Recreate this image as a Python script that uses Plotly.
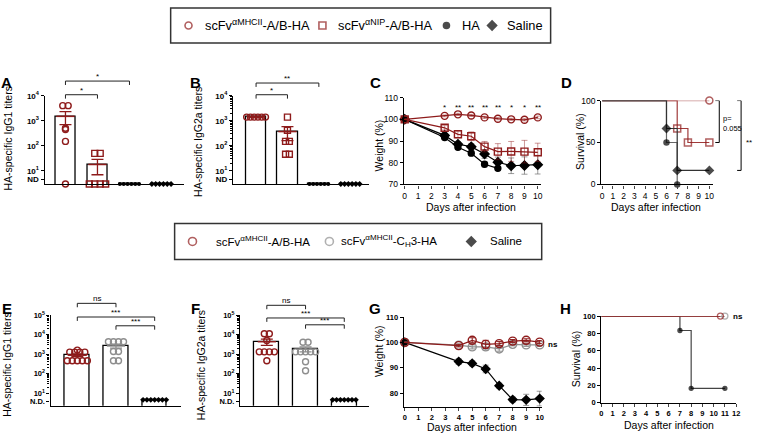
import plotly.graph_objects as go

W, H = 758, 439
FONT = "Liberation Sans, Arial, sans-serif"
RED = "#8e1b1b"
RED_SOFT = "rgba(142, 27, 27, 0.45)"
GREY = "#8e8e8e"
GREY_SOFT = "rgba(90, 90, 90, 0.6)"
BLACK = "#000000"

# ---------------- data ----------------
# titers per mouse, None = not detected (drawn on the N.D. line)
ab_groups = ["scFv αMHCII-A/B-HA", "scFv αNIP-A/B-HA", "HA", "Saline"]
ab_igg1 = [
    [4000, 4000, 450, 500, 150, None],
    [50, 50, None, None, None, None],
    [None, None, None, None, None, None],
    [None, None, None, None, None, None],
]
ab_igg1_mean = [1500, 18, None, None]
ab_igg1_sem = [800, 11, None, None]

ab_igg2a = [
    [1400, 1400, 1400, 1400, 1400, 1400],
    [1400, 420, 150, 150, 46, 46],
    [None, None, None, None, None, None],
    [None, None, None, None, None, None],
]
ab_igg2a_mean = [1400, 370, None, None]
ab_igg2a_sem = [0, 210, None, None]

# C: weight (%) after infection
c_days = [0, 3, 4, 5, 6, 7, 8, 9, 10]
c_mhc = [100, 101.6, 102.3, 101.8, 100.9, 100.3, 100.0, 99.8, 100.9]
c_mhc_sem = [0, 0.4, 0.5, 0.5, 0.5, 0.5, 0.5, 0.5, 0.6]
c_nip = [100, 96.1, 93.1, 92.2, 87.4, 85.1, 85.2, 85.1, 84.8]
c_nip_sem = [0, 1.0, 1.6, 2.0, 2.4, 3.7, 4.6, 5.2, 4.2]
c_ha_days = [0, 3, 4, 5, 6, 7]
c_ha = [100, 91.6, 87.1, 84.4, 79.3, 77.4]
c_ha_sem = [0, 0.6, 0.9, 1.0, 1.2, 0.8]
c_sal = [100, 92.6, 88.5, 87.4, 84.0, 80.2, 78.6, 78.7, 79.1]
c_sal_sem = [0, 0.8, 1.1, 1.4, 2.0, 2.4, 3.6, 4.0, 4.3]
c_sig = ["*", "**", "**", "**", "**", "*", "*", "**"]  # days 3-10

# D: survival (%)
d_mhc_days, d_mhc = [0, 10], [100, 100]
d_nip_days, d_nip = [0, 7, 8, 10], [100, 66.7, 50, 50]
d_ha_days, d_ha = [0, 6, 7], [100, 50, 0]
d_sal_days, d_sal = [0, 6, 7, 10], [100, 66.7, 16.7, 16.7]

# E / F titers
ef_groups = ["scFv αMHCII-A/B-HA", "scFv αMHCII-CH3-HA", "Saline"]
ef_igg1 = [
    [1250, 1250, 1600, 1250, 1250, 450, 450, 450, 450, 450],
    [4300, 4300, 4300, 4300, 1350, 1350, 450, 450],
    [None, None, None, None, None, None, None],
]
ef_igg1_mean = [880, 2600, None]
ef_igg1_sem = [140, 600, None]

ef_igg2a = [
    [11000, 11000, 5000, 1300, 1300, 1300, 1300, 450],
    [4000, 4000, 1300, 1300, 1300, 1300, 1300, 400, 140],
    [None, None, None, None, None, None, None],
]
ef_igg2a_mean = [4300, 1800, None]
ef_igg2a_sem = [1500, 500, None]

# G: weight (%)
g_days = [0, 4, 5, 6, 7, 8, 9, 10]
g_mhc = [100, 98.7, 100.8, 99.2, 99.5, 100.5, 100.8, 100.1]
g_mhc_sem = [0, 0.5, 1.0, 1.6, 0.8, 0.6, 0.6, 0.6]
g_ch3 = [100, 98.9, 98.2, 98.2, 97.4, 99.2, 99.0, 99.0]
g_ch3_sem = [0, 0.5, 0.8, 1.2, 0.9, 0.6, 0.6, 0.6]
g_sal = [100, 92.4, 91.7, 89.5, 82.9, 77.4, 77.3, 77.8]
g_sal_sem = [0, 1.1, 1.0, 1.5, 1.0, 1.0, 2.2, 2.9]

# H: survival (%)
h_mhc_days, h_mhc = [0, 10.6], [100, 100]
h_ch3_days, h_ch3 = [0, 11], [100, 100]
h_sal_days, h_sal = [0, 7, 8, 11], [100, 83.3, 16.7, 16.7]


# ---------------- helpers ----------------
def ref(n):
    return "" if n == 1 else str(n)


def fx(px):
    return px / W


def fy(py):
    return 1 - py / H


def spread(ys, center, step):
    # dots with the same value are laid side by side, like a scatter dot plot
    xs = []
    for i, v in enumerate(ys):
        same = [j for j, w in enumerate(ys) if w == v]
        k = same.index(i)
        xs.append(center + (k - (len(same) - 1) / 2) * step)
    return xs


fig = go.Figure()
axes = {}
shapes = []
annotations = []


def label(x_px, y_px, text, size, **kw):
    a = dict(xref="paper", yref="paper", x=fx(x_px), y=fy(y_px), text=text, showarrow=False,
             xanchor="center", yanchor="middle", font=dict(size=size, family=FONT, color=BLACK))
    a.update(kw)
    annotations.append(a)


# pixel boxes (left, right, top, bottom) of every plot area
boxes = {
    1: (43, 183, 92, 183),
    2: (233, 370, 92, 183),
    3: (405, 543, 94, 183),
    4: (604, 717, 97, 183),
    5: (49, 180, 317, 410),
    6: (240, 370, 317, 410),
    7: (405, 544, 319, 411),
    8: (604, 740, 318, 407),
}


def setup_axes(n, xrange, yrange, ylog=False, tickfont=None):
    l, r, t, b = boxes[n]
    tf = tickfont or dict(size=8, family=FONT, color=BLACK, weight="bold")
    axes["xaxis" + ref(n)] = dict(domain=[fx(l), fx(r)], range=xrange, anchor="y" + ref(n),
                                  showline=True, linewidth=1.3, linecolor=BLACK, showgrid=False,
                                  zeroline=False, ticks="", showticklabels=False, tickfont=tf)
    axes["yaxis" + ref(n)] = dict(domain=[fy(b), fy(t)], range=yrange, anchor="x" + ref(n),
                                  type="log" if ylog else "linear", showline=True, linewidth=1.3,
                                  linecolor=BLACK, showgrid=False, zeroline=False, ticks="outside",
                                  ticklen=3, tickwidth=1, tickcolor=BLACK, tickfont=tf)


def bracket(n, x0, x1, y_px, text, drop=4):
    y, yd = fy(y_px), fy(y_px + drop)
    shapes.append(dict(type="path", xref="x" + ref(n), yref="paper",
                       path=f"M {x0},{yd} L {x0},{y} L {x1},{y} L {x1},{yd}",
                       line=dict(color="#222", width=1)))
    annotations.append(dict(xref="x" + ref(n), yref="paper", x=(x0 + x1) / 2, y=y, text=text,
                            showarrow=False, xanchor="center", yanchor="bottom", yshift=-2,
                            font=dict(size=8, family=FONT, color=BLACK)))


def axis_break(n, lo, hi, cap=True):
    shapes.append(dict(type="rect", xref="x" + ref(n) + " domain", yref="y" + ref(n),
                       x0=-0.05, x1=1.0, y0=lo, y1=hi, fillcolor="white",
                       line=dict(width=0), layer="above"))
    if cap:
        shapes.append(dict(type="line", xref="x" + ref(n) + " domain", yref="y" + ref(n),
                           x0=-0.025, x1=0.025, y0=lo, y1=lo, line=dict(color=BLACK, width=1.3),
                           layer="above"))


def titer_panel(n, groups, values, means, sems, styles, nd_y, bar_w, step_open, step_dot):
    xr, yr = "x" + ref(n), "y" + ref(n)
    bars = [m if m is not None else nd_y for m in means]
    fig.add_trace(go.Bar(x=list(range(len(groups))), y=bars, width=bar_w, xaxis=xr, yaxis=yr,
                         marker=dict(color="white", line=dict(color=BLACK, width=1.3)),
                         hoverinfo="skip", showlegend=False))
    for i, vals in enumerate(values):
        symbol, color, size = styles[i]
        ys = [v if v is not None else nd_y for v in vals]
        is_open = symbol.endswith("open")
        step = step_open if is_open else step_dot
        fig.add_trace(go.Scatter(x=spread(ys, i, step), y=ys, mode="markers", name=groups[i],
                                 xaxis=xr, yaxis=yr, cliponaxis=False, showlegend=False,
                                 marker=dict(symbol=symbol, size=size, color=color,
                                             line=dict(color=color, width=1.4 if is_open else 0))))
        if means[i] is not None:
            fig.add_trace(go.Scatter(x=[i], y=[means[i]], mode="markers", xaxis=xr, yaxis=yr,
                                     cliponaxis=False, showlegend=False,
                                     marker=dict(symbol="line-ew", size=13,
                                                 line=dict(color=color, width=1.5)),
                                     error_y=dict(type="data", array=[sems[i]], color=color,
                                                  thickness=1.3, width=6)))


log_ticks_4 = [4.5, 10, 100, 1000, 10000]
log_text_4 = ["ND", "10<sup>1</sup>", "10<sup>2</sup>", "10<sup>3</sup>", "10<sup>4</sup>"]
log_ticks_5 = [3.9, 10, 100, 1000, 10000, 100000]
log_text_5 = ["N.D.", "10<sup>1</sup>", "10<sup>2</sup>", "10<sup>3</sup>", "10<sup>4</sup>",
              "10<sup>5</sup>"]
minor_4 = [m * 10 ** k for k in range(1, 4) for m in range(2, 10)]
minor_5 = [m * 10 ** k for k in range(1, 5) for m in range(2, 10)]

# ---------------- A ----------------
ab_styles = [("circle-open", RED, 6), ("square-open", RED, 6), ("circle", BLACK, 4),
             ("diamond", BLACK, 4.5)]
setup_axes(1, [-0.65, 3.69], [0.46, 4], ylog=True)
axes["yaxis"].update(tickmode="array", tickvals=log_ticks_4, ticktext=log_text_4)
titer_panel(1, ab_groups, ab_igg1, ab_igg1_mean, ab_igg1_sem, ab_styles, 3.0, 0.62, 0.17, 0.12)
axis_break(1, 0.77, 0.96)
bracket(1, 0, 1, 91, "*")
bracket(1, 0, 2, 77, "*")

# ---------------- B ----------------
setup_axes(2, [-0.73, 3.6], [0.46, 4], ylog=True)
axes["yaxis2"].update(tickmode="array", tickvals=log_ticks_4, ticktext=log_text_4,
                      minor=dict(tickmode="array", tickvals=minor_4, ticks="outside", ticklen=2,
                                 tickcolor=BLACK, tickwidth=0.8))
titer_panel(2, ab_groups, ab_igg2a, ab_igg2a_mean, ab_igg2a_sem, ab_styles, 3.0, 0.66, 0.12, 0.12)
axis_break(2, 0.77, 0.96)
bracket(2, 0, 1, 91, "*")
bracket(2, 0, 2, 79, "**")

# ---------------- C ----------------
plain_ticks = dict(size=8.5, family=FONT, color=BLACK)
setup_axes(3, [-0.07, 10.22], [70, 110], tickfont=plain_ticks)
axes["xaxis3"].update(ticks="outside", ticklen=3, showticklabels=True, tickmode="linear",
                      tick0=0, dtick=1)
axes["yaxis3"].update(tickmode="linear", tick0=70, dtick=10)
c_series = [
    (c_days, c_sal, c_sal_sem, "diamond", BLACK, 7, GREY_SOFT),
    (c_ha_days, c_ha, c_ha_sem, "circle", BLACK, 6, GREY_SOFT),
    (c_days, c_nip, c_nip_sem, "square-open", RED, 7, RED_SOFT),
    (c_days, c_mhc, c_mhc_sem, "circle-open", RED, 7, RED_SOFT),
]
for xs, ys, sem, sym, col, size, ecol in c_series:
    fig.add_trace(go.Scatter(x=xs, y=ys, mode="lines+markers", xaxis="x3", yaxis="y3",
                             cliponaxis=False, showlegend=False, line=dict(color=col, width=1.2),
                             marker=dict(symbol=sym, size=size, color=col,
                                         line=dict(color=col, width=1.4)),
                             error_y=dict(type="data", array=sem, color=ecol, thickness=1,
                                          width=3)))
for day, s in zip(c_days[1:], c_sig):
    annotations.append(dict(xref="x3", yref="y3", x=day, y=105.3, text=s, showarrow=False,
                            xanchor="center", yanchor="middle",
                            font=dict(size=8, family=FONT, color=BLACK)))

# ---------------- D ----------------
setup_axes(4, [-0.09, 10.37], [0, 100], tickfont=plain_ticks)
axes["xaxis4"].update(ticks="outside", ticklen=3, showticklabels=True, tickmode="linear",
                      tick0=0, dtick=1)
axes["yaxis4"].update(tickmode="array", tickvals=[0, 50, 100])
d_series = [
    (d_mhc_days, d_mhc, "circle-open", "#c98f8f", RED, 7),
    (d_nip_days, d_nip, "square-open", "#a03a3a", RED, 7),
    (d_ha_days, d_ha, "circle", "#666666", BLACK, 5),
    (d_sal_days, d_sal, "diamond", "#333333", BLACK, 6),
]
for xs, ys, sym, lcol, mcol, size in d_series:
    fig.add_trace(go.Scatter(x=xs, y=ys, mode="lines+markers", xaxis="x4", yaxis="y4",
                             cliponaxis=False, showlegend=False,
                             line=dict(color=lcol, width=1.2, shape="hv"),
                             marker=dict(symbol=sym, size=[0] + [size] * (len(xs) - 1),
                                         color=mcol, line=dict(color=mcol, width=1.5))))
for x_px, y_lo in [(723, 50), (745, 16.7)]:
    shapes.append(dict(type="path", xref="paper", yref="y4",
                       path=(f"M {fx(x_px - 4)},100 L {fx(x_px)},100 L {fx(x_px)},{y_lo} "
                             f"L {fx(x_px - 4)},{y_lo}"),
                       line=dict(color=BLACK, width=1)))
label(725, 121, "p=<br>0.055", 7.5, xanchor="left", align="left")
label(748, 140, "**", 8, xanchor="left")

# ---------------- E ----------------
ef_styles = [("circle-open", RED, 6), ("circle-open", GREY, 6), ("diamond", BLACK, 4.5)]
bold_small = dict(size=7.5, family=FONT, color=BLACK, weight="bold")
setup_axes(5, [-0.69, 2.67], [0.35, 5], ylog=True, tickfont=bold_small)
minor_e = dict(tickmode="array", tickvals=minor_5, ticks="outside", ticklen=2, tickcolor=BLACK,
               tickwidth=0.8)
axes["yaxis5"].update(tickmode="array", tickvals=log_ticks_5, ticktext=log_text_5, minor=minor_e)
titer_panel(5, ef_groups, ef_igg1, ef_igg1_mean, ef_igg1_sem, ef_styles, 4.5, 0.64, 0.13, 0.1)
axis_break(5, 0.74, 0.95, cap=False)
bracket(5, 0, 1, 305, "ns")
bracket(5, 0, 2, 319, "***")
bracket(5, 1, 2, 328, "***")

# ---------------- F ----------------
setup_axes(6, [-0.69, 2.64], [0.35, 5], ylog=True, tickfont=bold_small)
axes["yaxis6"].update(tickmode="array", tickvals=log_ticks_5, ticktext=log_text_5, minor=minor_e)
titer_panel(6, ef_groups, ef_igg2a, ef_igg2a_mean, ef_igg2a_sem, ef_styles, 4.5, 0.64, 0.13, 0.1)
axis_break(6, 0.74, 0.95, cap=False)
bracket(6, 0, 1, 307, "ns")
bracket(6, 0, 2, 320, "***")
bracket(6, 1, 2, 327, "***")

# ---------------- G ----------------
setup_axes(7, [-0.07, 10.15], [74.6, 110], tickfont=bold_small)
axes["xaxis7"].update(ticks="outside", ticklen=3, showticklabels=True, tickmode="linear",
                      tick0=0, dtick=1)
axes["yaxis7"].update(tickmode="array", tickvals=[80, 90, 100, 110])
g_series = [
    (g_sal, g_sal_sem, "diamond", BLACK, 6.5, GREY_SOFT),
    (g_ch3, g_ch3_sem, "circle-open", GREY, 8, GREY),
    (g_mhc, g_mhc_sem, "circle-open", RED, 8, RED),
]
for ys, sem, sym, col, size, ecol in g_series:
    fig.add_trace(go.Scatter(x=g_days, y=ys, mode="lines+markers", xaxis="x7", yaxis="y7",
                             cliponaxis=False, showlegend=False, line=dict(color=col, width=1.2),
                             marker=dict(symbol=sym, size=size, color=col,
                                         line=dict(color=col, width=1.4)),
                             error_y=dict(type="data", array=sem, color=ecol, thickness=1,
                                          width=3)))
label(555, 347, "ns", 8, font=dict(size=8, family=FONT, color=BLACK, weight="bold"))

# ---------------- H ----------------
setup_axes(8, [0, 12], [0, 100], tickfont=bold_small)
axes["xaxis8"].update(ticks="outside", ticklen=3, showticklabels=True, tickmode="linear",
                      tick0=0, dtick=1)
axes["yaxis8"].update(tickmode="linear", tick0=0, dtick=20)
h_series = [
    (h_sal_days, h_sal, "circle", "#444444", BLACK, 4),
    (h_ch3_days, h_ch3, "circle-open", GREY, GREY, 6),
    (h_mhc_days, h_mhc, "circle-open", RED, RED, 6),
]
for xs, ys, sym, lcol, mcol, size in h_series:
    fig.add_trace(go.Scatter(x=xs, y=ys, mode="lines+markers", xaxis="x8", yaxis="y8",
                             cliponaxis=False, showlegend=False,
                             line=dict(color=lcol, width=1.2, shape="hv"),
                             marker=dict(symbol=sym, size=[0] + [size] * (len(xs) - 1),
                                         color=mcol, line=dict(color=mcol, width=1.3))))
label(742, 318, "ns", 8, font=dict(size=8, family=FONT, color=BLACK, weight="bold"))

# ---------------- titles, letters ----------------
for t, x, y in [("A", 5, 78), ("B", 195, 78), ("C", 376, 78), ("D", 569, 78),
                ("E", 5, 310), ("F", 195, 310), ("G", 376, 310), ("H", 568, 310)]:
    label(x, y, f"<b>{t}</b>", 15)

for t, x, y in [("HA-specific IgG1 titers", 6, 136), ("HA-specific IgG2a titers", 197, 139),
                ("Weight (%)", 380, 143), ("Survival (%)", 582, 139),
                ("HA-specific IgG1 titers", 5, 368), ("HA-specific IgG2a titers", 200, 368),
                ("Weight (%)", 380, 354), ("Survival (%)", 579, 362)]:
    label(x, y, t, 10.5, textangle=-90)

for x, y in [(473, 206), (659, 206), (474, 432), (672, 430)]:
    label(x, y, "Days after infection", 10.5)

# ---------------- legends (drawn on a full-figure pixel axis) ----------------
axes["xaxis9"] = dict(domain=[0, 1], range=[0, W], visible=False, fixedrange=True, anchor="y9")
axes["yaxis9"] = dict(domain=[0, 1], range=[H, 0], visible=False, fixedrange=True, anchor="x9")

legend_rows = [
    # box (l, r, t, b), font size, entries: (marker x, symbol, color, size, text x, text)
    ((170, 553, 2, 38), 12.8, [
        (188, "circle-open", RED, 7, 203, "scFv<sup>αMHCII</sup>-A/B-HA"),
        (323, "square-open", RED, 7, 337, "scFv<sup>αNIP</sup>-A/B-HA"),
        (448, "circle", BLACK, 6, 462, "HA"),
        (494, "diamond", BLACK, 7, 507, "Saline"),
    ]),
    ((174, 544, 223, 260), 11.5, [
        (192, "circle-open", RED, 8, 214, "scFv<sup>αMHCII</sup>-A/B-HA"),
        (330, "circle-open", GREY, 8, 340, "scFv<sup>αMHCII</sup>-C<sub>H</sub>3-HA"),
        (473, "diamond", BLACK, 7, 490, "Saline"),
    ]),
]
for (l, r, t, b), fsize, entries in legend_rows:
    shapes.append(dict(type="rect", xref="paper", yref="paper", x0=fx(l), x1=fx(r), y0=fy(b),
                       y1=fy(t), line=dict(color="#333", width=1.5), fillcolor="rgba(0,0,0,0)"))
    ym = (t + b) / 2
    fig.add_trace(go.Scatter(x=[e[0] for e in entries], y=[ym] * len(entries), mode="markers",
                             xaxis="x9", yaxis="y9", cliponaxis=False, showlegend=False,
                             hoverinfo="skip",
                             marker=dict(symbol=[e[1] for e in entries],
                                         color=[e[2] for e in entries],
                                         size=[e[3] for e in entries],
                                         line=dict(color=[e[2] for e in entries], width=1.6))))
    for e in entries:
        label(e[4], ym, e[5], fsize, xanchor="left")

fig.update_layout(
    width=W, height=H, margin=dict(l=0, r=0, t=0, b=0),
    paper_bgcolor="white", plot_bgcolor="rgba(0,0,0,0)",
    font=dict(family=FONT, color=BLACK), showlegend=False, bargap=0,
    shapes=shapes, annotations=annotations, **axes,
)
# the page's default body margin would shift the 758x439 figure; drop it
fig.write_html("out.html", config={"displayModeBar": False},
               post_script="document.body.style.margin = '0';")
